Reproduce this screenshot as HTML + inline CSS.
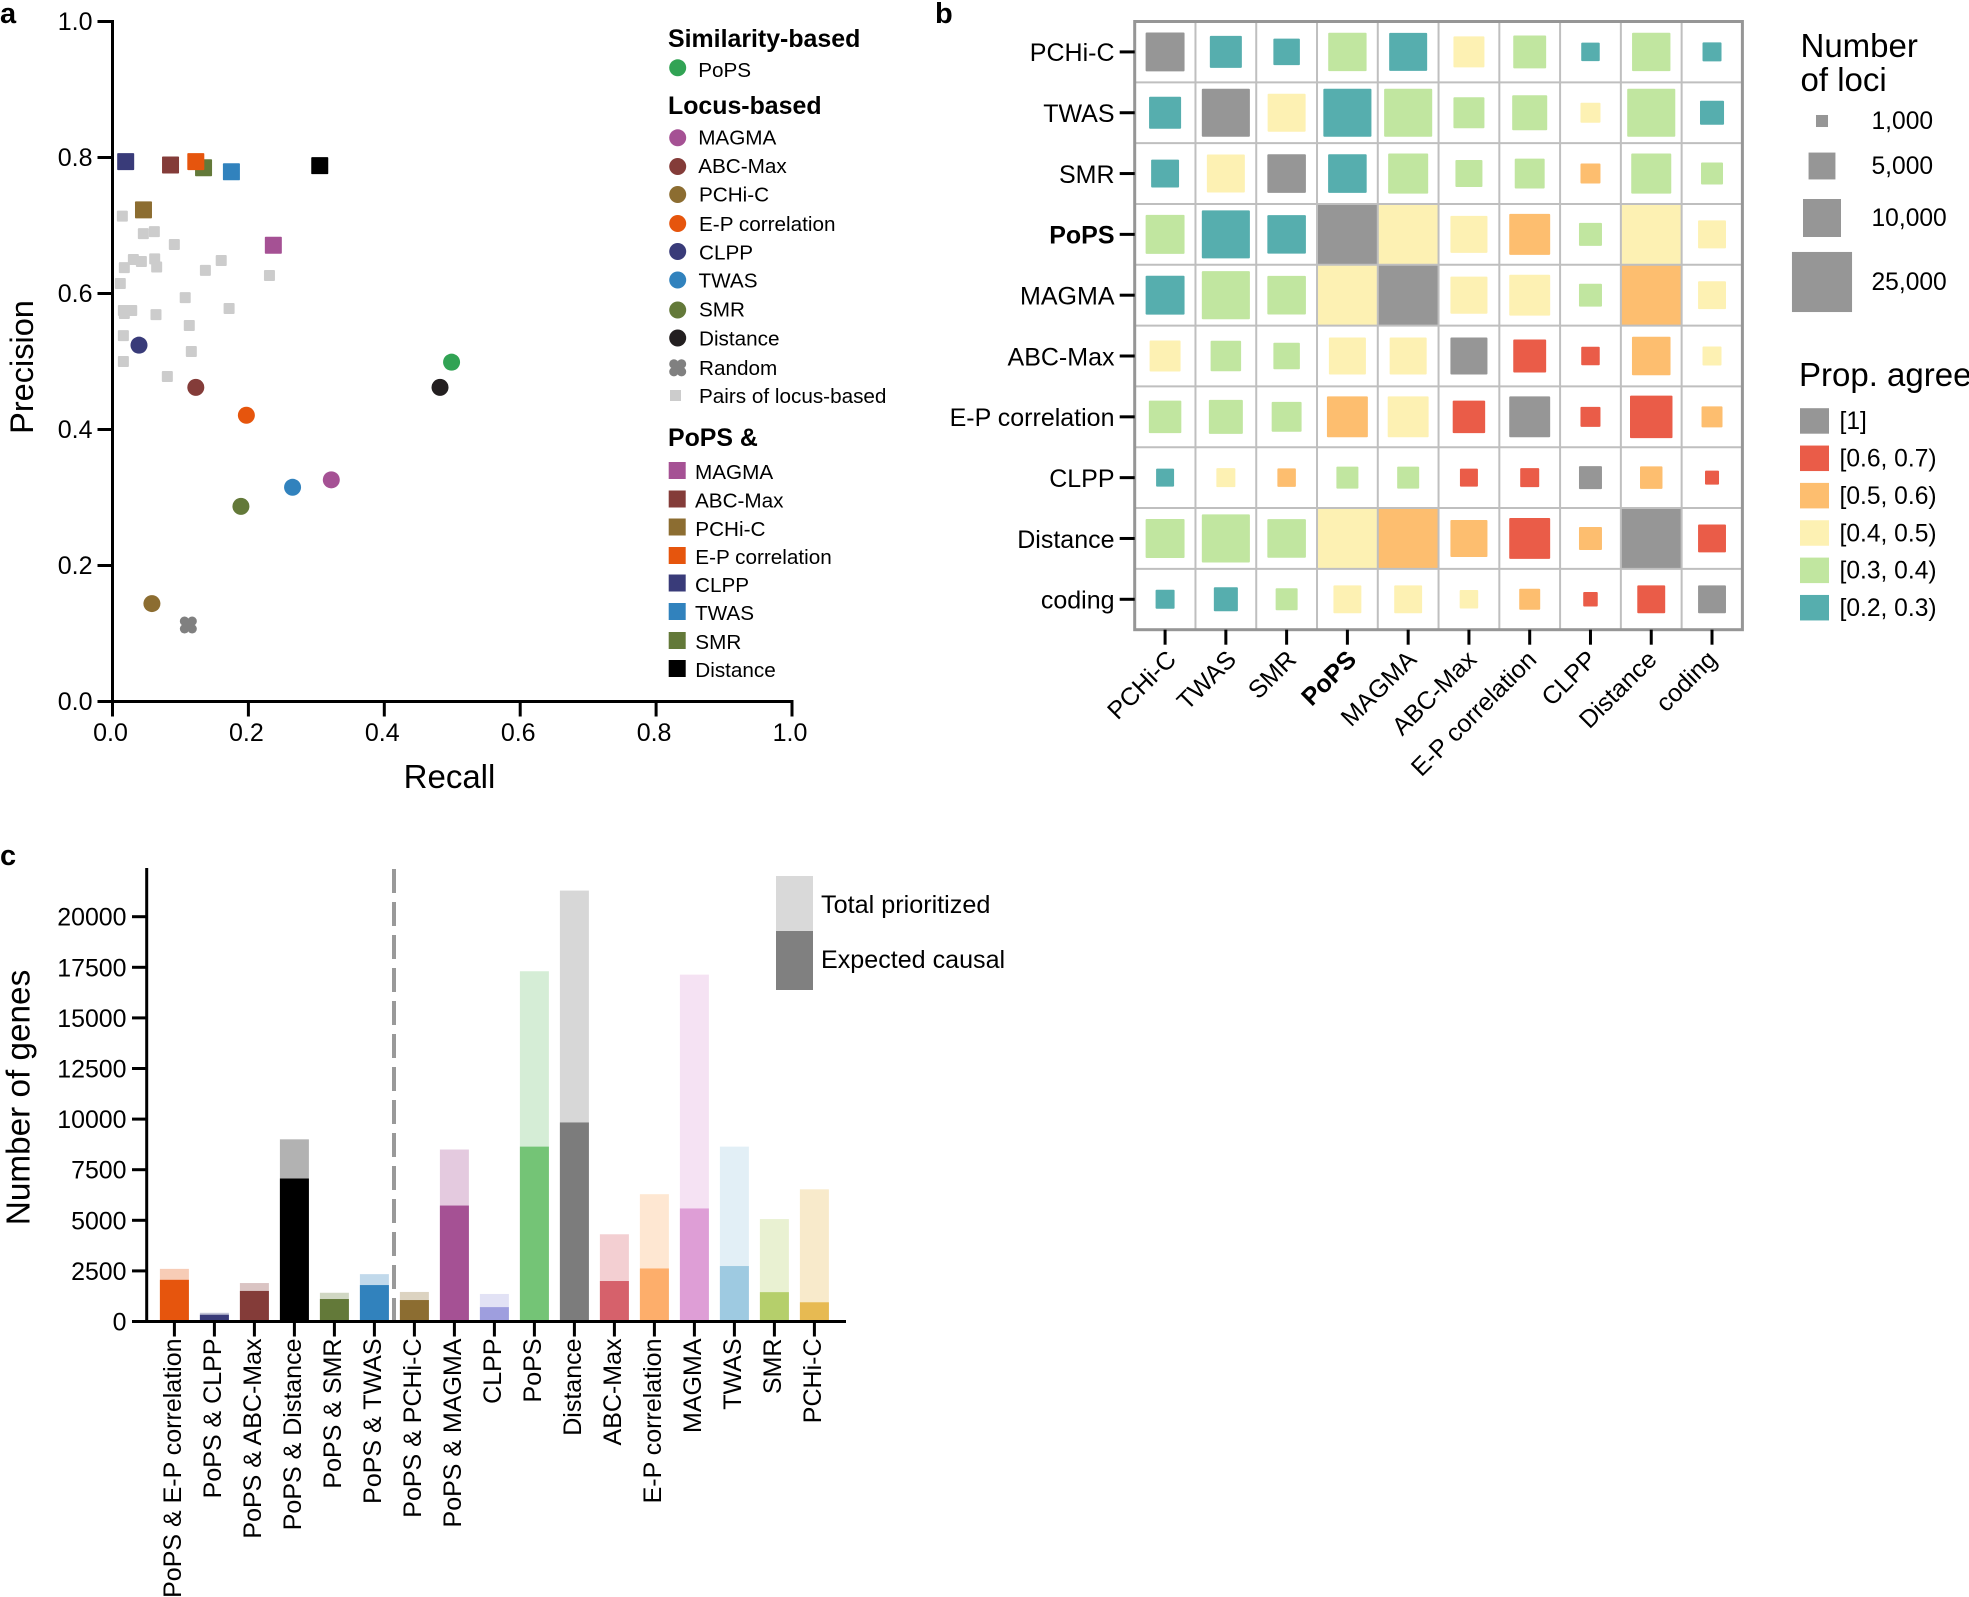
<!DOCTYPE html>
<html lang="en">
<head>
<meta charset="utf-8">
<title>Gene prioritization figure</title>
<style>
html,body{margin:0;padding:0;background:#fff;}
svg{display:block;font-family:"Liberation Sans",Arial,sans-serif;}
text{fill:#000;}
</style>
</head>
<body>
<svg id="figure" xmlns="http://www.w3.org/2000/svg" width="1969" height="1597" viewBox="0 0 1969 1597">
  <rect width="1969" height="1597" fill="#fff"/>
  <text x="0" y="23" font-size="29" font-weight="bold">a</text>
  <text x="935" y="23" font-size="29" font-weight="bold">b</text>
  <text x="0" y="865" font-size="29" font-weight="bold">c</text>

  <g id="panel-a">
    <text x="449.5" y="788" font-size="33" text-anchor="middle">Recall</text>
    <text transform="translate(33,367) rotate(-90)" font-size="32.5" text-anchor="middle">Precision</text>
    <g font-size="20.7">
      <text x="668" y="47" font-size="24.9" font-weight="bold">Similarity-based</text>
      <circle cx="677.7" cy="67.8" r="8.5" fill="#31a354"/>
      <text x="698.2" y="77">PoPS</text>
      <text x="668" y="114" font-size="24.9" font-weight="bold">Locus-based</text>
      <circle cx="677.7" cy="137.8" r="8.5" fill="#a55194"/>
      <text x="698.2" y="144.5">MAGMA</text>
      <circle cx="677.7" cy="166.5" r="8.5" fill="#843c39"/>
      <text x="698.2" y="172.8">ABC-Max</text>
      <circle cx="677.7" cy="194.5" r="8.5" fill="#8c6d31"/>
      <text x="699" y="201.6">PCHi-C</text>
      <circle cx="677.7" cy="223.5" r="8.5" fill="#e6550d"/>
      <text x="699" y="231">E-P correlation</text>
      <circle cx="677.7" cy="251.5" r="8.5" fill="#393b79"/>
      <text x="699" y="259.5">CLPP</text>
      <circle cx="677.7" cy="280" r="8.5" fill="#3182bd"/>
      <text x="698.5" y="287.6">TWAS</text>
      <circle cx="677.7" cy="310" r="8.5" fill="#637939"/>
      <text x="699" y="316.7">SMR</text>
      <circle cx="677.7" cy="338" r="8.5" fill="#231f20"/>
      <text x="699" y="345.3">Distance</text>
      <g fill="#808080">
        <circle cx="673.9" cy="364" r="4.7"/><circle cx="681.5" cy="364" r="4.7"/><circle cx="673.9" cy="371.7" r="4.7"/><circle cx="681.5" cy="371.7" r="4.7"/><rect x="673" y="363" width="9.4" height="9.6"/>
      </g>
      <text x="699" y="374.9">Random</text>
      <rect x="670" y="390" width="11" height="11" fill="#cccccc"/>
      <text x="699" y="402.9">Pairs of locus-based</text>
      <text x="668" y="445.8" font-size="24.9" font-weight="bold">PoPS &amp;</text>
      <rect x="668.7" y="462" width="17" height="17" fill="#a55194"/>
      <text x="695" y="479">MAGMA</text>
      <rect x="668.7" y="490.5" width="17" height="17" fill="#843c39"/>
      <text x="695" y="507.5">ABC-Max</text>
      <rect x="668.7" y="518.5" width="17" height="17" fill="#8c6d31"/>
      <text x="695.3" y="536">PCHi-C</text>
      <rect x="668.7" y="547" width="17" height="17" fill="#e6550d"/>
      <text x="695.3" y="564">E-P correlation</text>
      <rect x="668.7" y="574.5" width="17" height="17" fill="#393b79"/>
      <text x="695" y="592">CLPP</text>
      <rect x="668.7" y="603" width="17" height="17" fill="#3182bd"/>
      <text x="695" y="620">TWAS</text>
      <rect x="668.7" y="632" width="17" height="17" fill="#637939"/>
      <text x="695.3" y="649">SMR</text>
      <rect x="668.7" y="660" width="17" height="17" fill="#000000"/>
      <text x="695.3" y="677">Distance</text>
    </g>
  </g>

  <g id="panel-b">
    <g font-size="24.6">
      <text x="1800.5" y="57" font-size="33">Number</text>
      <text x="1800.5" y="91" font-size="33">of loci</text>
    </g>
    <g id="size-legend-entries"></g>
    <g>
      <text x="1799" y="386" font-size="33">Prop. agree</text>
    </g>
    <g id="colour-legend-entries"></g>
  </g>

  <g id="panel-c">
    <text transform="translate(29.5,1097.5) rotate(-90)" font-size="33.3" text-anchor="middle">Number of genes</text>
    <rect x="776" y="876" width="37" height="55" fill="#d9d9d9"/>
    <rect x="776" y="931" width="37" height="59" fill="#808080"/>
    <text x="821" y="913" font-size="25.2">Total prioritized</text>
    <text x="821" y="968" font-size="25.1">Expected causal</text>
  </g>
</svg>

<script>
/* ---------- Panel a data ---------- */
var scatterTicks = ['0.0', '0.2', '0.4', '0.6', '0.8', '1.0'];
var locusMethods = ['PoPS', 'Distance', 'ABC-Max', 'E-P correlation', 'MAGMA', 'TWAS', 'SMR', 'PCHi-C', 'CLPP'];
var locusRecall = [0.499, 0.482, 0.1226, 0.197, 0.322, 0.265, 0.189, 0.058, 0.039];
var locusPrecision = [0.499, 0.462, 0.462, 0.421, 0.326, 0.315, 0.287, 0.144, 0.524];
var randomRecall = 0.1116;
var randomPrecision = 0.1125;
var pairMethods = ['SMR', 'MAGMA', 'ABC-Max', 'PCHi-C', 'E-P correlation', 'CLPP', 'TWAS', 'Distance'];
var pairRecall = [0.134, 0.2367, 0.0854, 0.0456, 0.1226, 0.0194, 0.175, 0.305];
var pairPrecision = [0.785, 0.671, 0.789, 0.723, 0.794, 0.794, 0.779, 0.788];
var locusPairRecall = [0.0145, 0.0454, 0.0616, 0.091, 0.0307, 0.0425, 0.0621, 0.0174, 0.065, 0.1367, 0.16, 0.231, 0.0115, 0.107, 0.016, 0.0283, 0.0174, 0.064, 0.1716, 0.113, 0.016, 0.116, 0.016, 0.0807];
var locusPairPrecision = [0.7137, 0.688, 0.691, 0.672, 0.65, 0.647, 0.651, 0.638, 0.639, 0.634, 0.6485, 0.6265, 0.6147, 0.594, 0.575, 0.575, 0.5706, 0.569, 0.578, 0.553, 0.538, 0.5147, 0.5, 0.478];

/* ---------- Panel b data ---------- */
var heatCategories = ['PCHi-C', 'TWAS', 'SMR', 'PoPS', 'MAGMA', 'ABC-Max', 'E-P correlation', 'CLPP', 'Distance', 'coding'];
var lociMatrix = [
  [10500, 7100, 4860, 10200, 10000, 6650, 7500, 2370, 10200, 2500],
  [7100, 16000, 10000, 16000, 16000, 6650, 8500, 2770, 16000, 4000],
  [5400, 10000, 10300, 10300, 11100, 5050, 6200, 2770, 11100, 3350],
  [10500, 16000, 10300, 25000, 25000, 9500, 11600, 3660, 25000, 5400],
  [10500, 16000, 10300, 25000, 25000, 9500, 11600, 3660, 25000, 5400],
  [6650, 6440, 4860, 9500, 9500, 9500, 7500, 2370, 10300, 2500],
  [7300, 8000, 6200, 11600, 11600, 7300, 11600, 2770, 12500, 3050],
  [2240, 2500, 2370, 3350, 3350, 2240, 2500, 3660, 3500, 1360],
  [10500, 16000, 10300, 25000, 25000, 9500, 11600, 3660, 25000, 5400],
  [2500, 4000, 3350, 5400, 5400, 2370, 3050, 1460, 5400, 5400]
];
var agreeMatrix = [
  [1, 0.25, 0.25, 0.35, 0.25, 0.45, 0.35, 0.25, 0.35, 0.25],
  [0.25, 1, 0.45, 0.25, 0.35, 0.35, 0.35, 0.45, 0.35, 0.25],
  [0.25, 0.45, 1, 0.25, 0.35, 0.35, 0.35, 0.55, 0.35, 0.35],
  [0.35, 0.25, 0.25, 1, 0.45, 0.45, 0.55, 0.35, 0.45, 0.45],
  [0.25, 0.35, 0.35, 0.45, 1, 0.45, 0.45, 0.35, 0.55, 0.45],
  [0.45, 0.35, 0.35, 0.45, 0.45, 1, 0.65, 0.65, 0.55, 0.45],
  [0.35, 0.35, 0.35, 0.55, 0.45, 0.65, 1, 0.65, 0.65, 0.55],
  [0.25, 0.45, 0.55, 0.35, 0.35, 0.65, 0.65, 1, 0.55, 0.65],
  [0.35, 0.35, 0.35, 0.45, 0.55, 0.55, 0.65, 0.55, 1, 0.65],
  [0.25, 0.25, 0.35, 0.45, 0.45, 0.45, 0.55, 0.65, 0.65, 1]
];
var lociLegendValues = [1000, 5000, 10000, 25000];
var lociLegendLabels = ['1,000', '5,000', '10,000', '25,000'];
var agreeLegendValues = [1, 0.65, 0.55, 0.45, 0.35, 0.25];
var agreeLegendLabels = ['[1]', '[0.6, 0.7)', '[0.5, 0.6)', '[0.4, 0.5)', '[0.3, 0.4)', '[0.2, 0.3)'];

/* ---------- Panel c data ---------- */
var barCategories = ['PoPS & E-P correlation', 'PoPS & CLPP', 'PoPS & ABC-Max', 'PoPS & Distance', 'PoPS & SMR', 'PoPS & TWAS', 'PoPS & PCHi-C', 'PoPS & MAGMA', 'CLPP', 'PoPS', 'Distance', 'ABC-Max', 'E-P correlation', 'MAGMA', 'TWAS', 'SMR', 'PCHi-C'];
var totalPrioritized = [2600, 430, 1900, 9000, 1420, 2340, 1460, 8497, 1360, 17305, 21290, 4310, 6290, 17138, 8640, 5060, 6530];
var expectedCausal = [2060, 334, 1510, 7065, 1110, 1800, 1060, 5729, 710, 8640, 9834, 2000, 2620, 5585, 2740, 1450, 950];
var barTicks = [0, 2500, 5000, 7500, 10000, 12500, 15000, 17500, 20000];

/* ---------- Colours ---------- */
var methodColors = {'PoPS': '#31a354', 'MAGMA': '#a55194', 'ABC-Max': '#843c39', 'PCHi-C': '#8c6d31', 'E-P correlation': '#e6550d', 'CLPP': '#393b79', 'TWAS': '#3182bd', 'SMR': '#637939', 'Distance': '#231f20'};
var barColors = ['#e6550d', '#393b79', '#843c39', '#000000', '#637939', '#3182bd', '#8c6d31', '#a55194', '#9e9ede', '#74c476', '#7c7c7c', '#d6616b', '#fdae6b', '#de9ed6', '#9ecae1', '#b5cf6b', '#e7ba52'];

/* ---------- Helpers ---------- */
var SVGNS = 'http://www.w3.org/2000/svg';
function make(tag, parent, attrs) {
  var node = document.createElementNS(SVGNS, tag);
  for (var k in attrs) { node.setAttribute(k, attrs[k]); }
  parent.appendChild(node);
  return node;
}
function slug(s) { return s.toLowerCase().replace(/&/g, 'and').replace(/[^a-z0-9]+/g, '-'); }
var el;

/* ---------- Panel a ---------- */
var panelA = document.getElementById('panel-a');
function xA(v) { return 112.5 + v * 679.5; }
function yA(v) { return 701.5 - v * 680; }

el = make('line', panelA, {x1: xA(0), x2: xA(0), y1: yA(1) - 1.5, y2: yA(0) + 1.5, stroke: '#000', 'stroke-width': 3});


el = make('line', panelA, {x1: xA(0), x2: xA(1) + 1.5, y1: yA(0), y2: yA(0), stroke: '#000', 'stroke-width': 3});



scatterTicks.forEach(function (t) {
  var v = parseFloat(t);
  el = make('line', panelA, {x1: xA(v), x2: xA(v), y1: yA(0), y2: yA(0) + 15, stroke: '#000', 'stroke-width': 3});
  
  
  el = make('line', panelA, {x1: xA(0) - 15, x2: xA(0), y1: yA(v), y2: yA(v), stroke: '#000', 'stroke-width': 3});
  
  
  el = make('text', panelA, {x: xA(v) - 2, y: 741, 'font-size': 25, 'text-anchor': 'middle'});
  el.textContent = t;
  
  
  el = make('text', panelA, {x: 92.5, y: yA(v) + 8.5, 'font-size': 25, 'text-anchor': 'end'});
  el.textContent = t;
  
  
});

locusPairRecall.forEach(function (r, i) {
  el = make('rect', panelA, {x: xA(r) - 5.5, y: yA(locusPairPrecision[i]) - 5.5, width: 11, height: 11, rx: 1, fill: '#cccccc'});
  
  
});
locusMethods.forEach(function (m, i) {
  el = make('circle', panelA, {cx: xA(locusRecall[i]), cy: yA(locusPrecision[i]), r: 8.5, fill: methodColors[m]});
  
  
});
pairMethods.forEach(function (m, i) {
  var c = m === 'Distance' ? '#000000' : methodColors[m];
  el = make('rect', panelA, {x: xA(pairRecall[i]) - 8.5, y: yA(pairPrecision[i]) - 8.5, width: 17, height: 17, rx: 0.8, fill: c});
  
  
});
var randomGroup = make('g', panelA, {fill: '#808080'});


[[-3.8, -3.8], [3.8, -3.8], [-3.8, 3.8], [3.8, 3.8]].forEach(function (o) {
  make('circle', randomGroup, {cx: xA(randomRecall) + o[0], cy: yA(randomPrecision) + o[1], r: 4.7});
});
make('rect', randomGroup, {x: xA(randomRecall) - 4.7, y: yA(randomPrecision) - 4.7, width: 9.4, height: 9.4});

/* ---------- Panel b ---------- */
var panelB = document.getElementById('panel-b');
var HEAT_LEFT = 1134.7, HEAT_TOP = 21.5, CELL_W = 60.77, CELL_H = 60.82;
function xCell(i) { return HEAT_LEFT + CELL_W * (i + 0.5); }
function yCell(i) { return HEAT_TOP + CELL_H * (i + 0.5); }
function sideOf(n) { return 0.38 * Math.sqrt(n); }
function agreeColor(p) {
  if (p >= 0.7) return '#969696';
  if (p >= 0.6) return '#ea5c48';
  if (p >= 0.5) return '#fdbe6f';
  if (p >= 0.4) return '#fdf1b3';
  if (p >= 0.3) return '#c1e6a0';
  return '#56aeae';
}
lociMatrix.forEach(function (row, r) {
  row.forEach(function (n, c) {
    var s = sideOf(n);
    el = make('rect', panelB, {x: xCell(c) - s / 2, y: yCell(r) - s / 2, width: s, height: s, rx: 1, fill: agreeColor(agreeMatrix[r][c])});
    
    
  });
});
for (var g = 1; g < heatCategories.length; g++) {
  el = make('line', panelB, {x1: HEAT_LEFT + CELL_W * g, x2: HEAT_LEFT + CELL_W * g, y1: HEAT_TOP, y2: HEAT_TOP + CELL_H * 10, stroke: '#bfbfbf', 'stroke-width': 2});
  
  
  el = make('line', panelB, {x1: HEAT_LEFT, x2: HEAT_LEFT + CELL_W * 10, y1: HEAT_TOP + CELL_H * g, y2: HEAT_TOP + CELL_H * g, stroke: '#bfbfbf', 'stroke-width': 2});
  
  
}
el = make('rect', panelB, {x: HEAT_LEFT, y: HEAT_TOP, width: CELL_W * 10, height: CELL_H * 10, fill: 'none', stroke: '#969696', 'stroke-width': 3});



heatCategories.forEach(function (cat, i) {
  var isBold = cat === 'PoPS' ? 'bold' : 'normal';
  el = make('line', panelB, {x1: HEAT_LEFT - 15, x2: HEAT_LEFT, y1: yCell(i), y2: yCell(i), stroke: '#000', 'stroke-width': 3});
  
  
  el = make('line', panelB, {x1: xCell(i), x2: xCell(i), y1: HEAT_TOP + CELL_H * 10, y2: HEAT_TOP + CELL_H * 10 + 15, stroke: '#000', 'stroke-width': 3});
  
  
  el = make('text', panelB, {x: 1114.5, y: yCell(i) + 9.3, 'font-size': 25, 'text-anchor': 'end', 'font-weight': isBold});
  el.textContent = cat;
  
  
  el = make('text', panelB, {transform: 'translate(' + (xCell(i) + 12.5 - 0.7 * i) + ',661) rotate(-45)', 'font-size': 25, 'text-anchor': 'end', 'font-weight': isBold});
  el.textContent = cat;
  
  
});

var sizeLegend = document.getElementById('size-legend-entries');
var sizeLegendY = [121, 166, 218, 282];
lociLegendValues.forEach(function (n, i) {
  var s = sideOf(n);
  el = make('rect', sizeLegend, {x: 1822 - s / 2, y: sizeLegendY[i] - s / 2, width: s, height: s, fill: '#969696'});
  
  
  el = make('text', sizeLegend, {x: 1871.5, y: sizeLegendY[i] + 8, 'font-size': 24.6});
  el.textContent = lociLegendLabels[i];
  
  
});
var colourLegend = document.getElementById('colour-legend-entries');
agreeLegendValues.forEach(function (p, i) {
  var top = 408.2 + i * 37.35;
  el = make('rect', colourLegend, {x: 1800, y: top, width: 29, height: 25.5, fill: agreeColor(p)});
  
  
  el = make('text', colourLegend, {x: 1839.5, y: top + 21, 'font-size': 24.6});
  el.textContent = agreeLegendLabels[i];
  
  
});

/* ---------- Panel c ---------- */
var panelC = document.getElementById('panel-c');
var BAR_BASE = 1321.5;
function yC(v) { return BAR_BASE - v * 404.8 / 20000; }
function xC(i) { return 174.4 + i * 40; }
var BAR_W = 29;

barCategories.forEach(function (cat, i) {
  el = make('rect', panelC, {x: xC(i) - BAR_W / 2, y: yC(totalPrioritized[i]), width: BAR_W, height: BAR_BASE - yC(totalPrioritized[i]), fill: barColors[i], 'fill-opacity': 0.3});
  
  
  el = make('rect', panelC, {x: xC(i) - BAR_W / 2, y: yC(expectedCausal[i]), width: BAR_W, height: BAR_BASE - yC(expectedCausal[i]), fill: barColors[i]});
  
  
  el = make('line', panelC, {x1: xC(i), x2: xC(i), y1: BAR_BASE, y2: BAR_BASE + 15, stroke: '#000', 'stroke-width': 3});
  
  
  el = make('text', panelC, {transform: 'translate(' + (xC(i) + 6.5) + ',1338.5) rotate(-90)', 'font-size': 25, 'text-anchor': 'end'});
  el.textContent = cat;
  
  
});
barTicks.forEach(function (t) {
  el = make('line', panelC, {x1: 132, x2: 146.7, y1: yC(t), y2: yC(t), stroke: '#000', 'stroke-width': 3});
  
  
  el = make('text', panelC, {x: 126.5, y: yC(t) + 9, 'font-size': 24.9, 'text-anchor': 'end'});
  el.textContent = String(t);
  
  
});
el = make('line', panelC, {x1: 146.7, x2: 146.7, y1: 868, y2: BAR_BASE + 1.5, stroke: '#000', 'stroke-width': 3});


el = make('line', panelC, {x1: 132, x2: 846, y1: BAR_BASE, y2: BAR_BASE, stroke: '#000', 'stroke-width': 3});


el = make('line', panelC, {x1: 394, x2: 394, y1: 869, y2: 1320, stroke: '#999999', 'stroke-width': 4, 'stroke-dasharray': '24 9'});


</script>
</body>
</html>
